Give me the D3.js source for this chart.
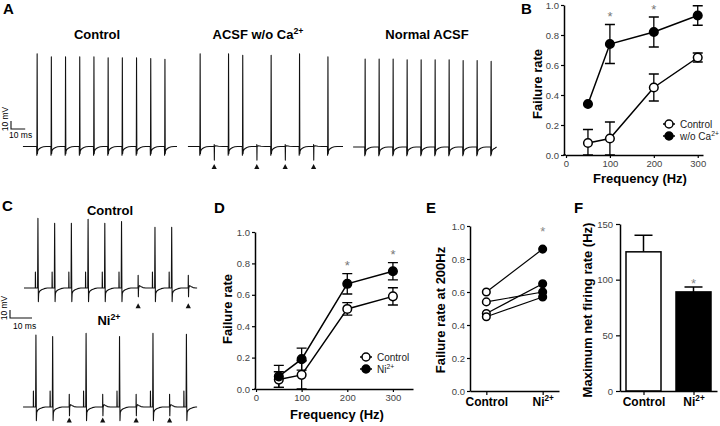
<!DOCTYPE html>
<html><head><meta charset="utf-8">
<script src="https://cdn.jsdelivr.net/npm/d3@7/dist/d3.min.js"></script>
<style>
html,body{margin:0;padding:0;background:#fff;}
svg{display:block;}
</style></head>
<body>
<svg id="fig" width="720" height="426"></svg>
<script>
// ---------------- DATA ----------------
const freqs = [50, 100, 200, 300];
const freqTicks = [0, 100, 200, 300];
const rateTicks = [0, 0.2, 0.4, 0.6, 0.8, 1.0];
const firingTicks = [0, 50, 100, 150];

// Panel B
const bControlMean = [0.08, 0.11, 0.45, 0.65];
const bControlSem  = [0.09, 0.11, 0.09, 0.03];
const bNoCaMean    = [0.34, 0.74, 0.82, 0.93];
const bNoCaSem     = [0.00, 0.13, 0.10, 0.065];
const bSignificant = [100, 200];

// Panel D
const dControlMean = [0.06, 0.09, 0.51, 0.59];
const dControlSem  = [0.05, 0.09, 0.04, 0.055];
const dNiMean      = [0.08, 0.19, 0.67, 0.75];
const dNiSem       = [0.07, 0.07, 0.065, 0.055];
const dSignificant = [200, 300];

// Panel E (paired cells)
const eGroups  = ['Control', 'Ni'];
const eControl = [0.60, 0.54, 0.47, 0.45];
const eNi      = [0.86, 0.60, 0.65, 0.57];

// Panel F
const fGroups = ['Control', 'Ni'];
const fMean = [125, 89];
const fSem  = [15, 4.5];

// Traces: stimulus times (ms) and spike amplitudes (mV); 0 = failure
const aStimMs = [0, 10, 20, 30, 40, 50, 60, 70, 80, 90];
const aControlAmp = [116, 112, 112, 112, 112, 111, 111, 111, 110, 109];
const aNoCaAmp    = [116, 0, 116, 114, 0, 114, 0, 116, 0, 112];
const aNormalAmp  = [110, 110, 110, 109, 109, 109, 109, 108, 108, 107];
const cStimMs = [0, 7.6, 15.2, 22.8, 30.4, 38.0, 45.6, 53.2, 60.8, 68.4];
const cControlAmp = [87, 81, 81, 86, 81, 83, 0, 76, 76, 0];
const cNiAmp      = [90, 88, 0, 92, 0, 88, 0, 92, 0, 91];

// Waveform shapes: [ms after stimulus, mV from rest]; null = spike peak
const spikeShapeA = [[-0.25,0],[-0.15,-11],[-0.05,0],[0.1,null],[0.3,-9],[0.45,-6],[0.9,-4],[1.8,-2.5],[3,-1.2],[4.5,-0.4],[6.5,0]];
const failShapeA  = [[-0.05,0],[0,2.5],[0.1,-17],[0.2,0],[1,1],[3,0.4],[6,0]];
const spikeShapeC = [[-0.05,0],[0,20],[0.1,0],[1.0,0],[1.15,null],[1.35,-17],[1.5,-7],[1.9,-4],[2.8,-2.2],[4,-0.8],[5.4,0]];
const failShapeC  = [[1.05,0],[1.1,16],[1.2,-11],[1.3,0],[1.7,3],[2.3,2],[3.3,0.5],[4.5,0]];

// ---------------- DRAWING ----------------
const FONT = '"Liberation Sans", Arial, Helvetica, sans-serif';
const svg = d3.select('#fig').attr('font-family', FONT);

function txt(x, y, s, o = {}) {
  const t = svg.append('text').attr('x', x).attr('y', y)
    .attr('font-size', o.fs || 13).attr('font-weight', o.bold ? 'bold' : 'normal')
    .attr('fill', o.fill || '#000').attr('text-anchor', o.anchor || 'start');
  if (o.rot) t.attr('transform', `rotate(${o.rot},${x},${y})`);
  t.append('tspan').text(s);
  if (o.sup) t.append('tspan').attr('dy', -(o.fs || 13) * 0.4).attr('font-size', (o.fs || 13) * 0.68).text(o.sup);
  return t;
}

function styleAxis(g, fs, color, bold) {
  g.attr('font-family', FONT).attr('font-size', fs);
  g.select('.domain').attr('stroke', '#000').attr('stroke-width', 1.5);
  g.selectAll('.tick line').attr('stroke', '#000').attr('stroke-width', 1.2);
  g.selectAll('.tick text').attr('fill', color).attr('font-weight', bold ? 'bold' : 'normal');
}

// panel letters
[['A',3,14],['B',521,14],['C',2,211],['D',214,213],['E',426,213],['F',574,213]].forEach(([l,x,y]) =>
  txt(x, y, l, {fs: 15, bold: true}));

// ---- traces ----
function trace(cfg) {
  const x = d3.scaleLinear().domain([0, 10]).range([cfg.stimX, cfg.stimX + 10 * cfg.pxPerMs]);
  const y = d3.scaleLinear().domain([0, 10]).range([cfg.base, cfg.base - 10 * cfg.pxPerMv]);
  let pts = [[cfg.t0, 0]];
  cfg.stims.forEach((t, i) => {
    const a = cfg.amps[i];
    const shape = a > 0 ? cfg.spike : cfg.fail;
    shape.forEach(([dt, v]) => pts.push([t + dt, v === null ? a : v]));
  });
  pts.push([cfg.t1, 0]);
  pts = pts.filter(p => p[0] >= cfg.t0 && p[0] <= cfg.t1);
  svg.append('path').datum(pts)
    .attr('d', d3.line().x(d => x(d[0])).y(d => y(d[1])))
    .attr('fill', 'none').attr('stroke', '#111').attr('stroke-width', 1.1).attr('stroke-linejoin', 'round');
  cfg.stims.forEach((t, i) => {
    if (cfg.amps[i] === 0) {
      const ax = x(t + cfg.arrowDt), ay = y(cfg.arrowMv);
      svg.append('path').attr('d', `M${ax},${ay}L${ax-2.6},${ay+5}L${ax+2.6},${ay+5}Z`).attr('fill', '#111');
    }
  });
}

trace({stims: aStimMs, amps: aControlAmp, spike: spikeShapeA, fail: failShapeA, stimX: 37, pxPerMs: 1.42, pxPerMv: 0.8, base: 146.5, t0: -9.9, t1: 98.6, arrowDt: 0, arrowMv: -22});
trace({stims: aStimMs, amps: aNoCaAmp, spike: spikeShapeA, fail: failShapeA, stimX: 200, pxPerMs: 1.42, pxPerMv: 0.8, base: 146.5, t0: -8.5, t1: 100.7, arrowDt: 0, arrowMv: -22});
trace({stims: aStimMs, amps: aNormalAmp, spike: spikeShapeA, fail: failShapeA, stimX: 365, pxPerMs: 1.40, pxPerMv: 0.8, base: 147, t0: -8.5, t1: 94, arrowDt: 0, arrowMv: -22});
trace({stims: cStimMs, amps: cControlAmp, spike: spikeShapeC, fail: failShapeC, stimX: 35.4, pxPerMs: 2.2, pxPerMv: 0.8, base: 288, t0: -5.2, t1: 73.5, arrowDt: 1.1, arrowMv: -19});
trace({stims: cStimMs, amps: cNiAmp, spike: spikeShapeC, fail: failShapeC, stimX: 33.4, pxPerMs: 2.2, pxPerMv: 0.8, base: 407, t0: -4.7, t1: 74.4, arrowDt: 1.1, arrowMv: -13});

// scale bars
function scaleBar(x0, y0, pxPerMs, pxPerMv, msLab, mvLab) {
  const sx = d3.scaleLinear().domain([0, 10]).range([x0, x0 + 10 * pxPerMs]);
  const sy = d3.scaleLinear().domain([0, 10]).range([y0, y0 - 10 * pxPerMv]);
  svg.append('path').attr('d', `M${sx(0)},${sy(10)}V${sy(0)}H${sx(10)}`)
    .attr('fill', 'none').attr('stroke', '#111').attr('stroke-width', 1.1);
  txt(mvLab[0], mvLab[1], '10 mV', {fs: 8.5, rot: -90, anchor: 'middle'});
  txt(msLab[0], msLab[1], '10 ms', {fs: 8.5});
}
scaleBar(11, 129, 1.42, 0.8, [9, 138], [8, 119]);
scaleBar(10, 318, 2.2, 0.8, [13, 329], [7, 308]);

// trace titles
txt(97, 39, 'Control', {bold: true, anchor: 'middle'});
txt(258, 39, 'ACSF w/o Ca', {bold: true, anchor: 'middle', sup: '2+'});
txt(427, 39, 'Normal ACSF', {bold: true, anchor: 'middle'});
txt(110, 215, 'Control', {bold: true, anchor: 'middle'});
txt(109, 325, 'Ni', {bold: true, anchor: 'middle', sup: '2+'});

// ---- frequency panels (B, D) ----
function freqPanel(cfg) {
  const {x, y, yAxisX, series, sig} = cfg;
  const ya = svg.append('g').attr('transform', `translate(${yAxisX},0)`)
    .call(d3.axisLeft(y).tickValues(rateTicks).tickFormat(d3.format('.1f')).tickSize(3).tickPadding(2).tickSizeOuter(0));
  styleAxis(ya, 9.5, '#444');
  const xa = svg.append('g').attr('transform', `translate(0,${y(0)})`)
    .call(d3.axisBottom(x).tickValues(freqTicks).tickSize(3).tickPadding(2).tickSizeOuter(0));
  styleAxis(xa, 9.5, '#444');
  svg.append('line').attr('x1', yAxisX - 0.75).attr('x2', x(0)).attr('y1', y(0)).attr('y2', y(0))
    .attr('stroke', '#000').attr('stroke-width', 1.5);
  series.forEach(s => {
    const pts = freqs.map((f, i) => ({f, v: s.mean[i], e: s.sem[i]}));
    svg.append('path').datum(pts).attr('d', d3.line().x(d => x(d.f)).y(d => y(d.v)))
      .attr('fill', 'none').attr('stroke', '#000').attr('stroke-width', 1.5);
    pts.forEach(d => {
      if (d.e <= 0) return;
      const lo = Math.max(0, d.v - d.e), hi = d.v + d.e, cx = x(d.f);
      svg.append('path').attr('d', `M${cx},${y(lo)}V${y(hi)}M${cx-5},${y(hi)}H${cx+5}M${cx-5},${y(lo)}H${cx+5}`)
        .attr('stroke', '#000').attr('stroke-width', 1.3).attr('fill', 'none');
    });
  });
  series.forEach(s => {
    freqs.forEach((f, i) => {
      svg.append('circle').attr('cx', x(f)).attr('cy', y(s.mean[i])).attr('r', 4.3)
        .attr('fill', s.fill).attr('stroke', '#000').attr('stroke-width', 1.5);
    });
  });
  sig.forEach(f => {
    const i = freqs.indexOf(f);
    const top = d3.max(series, s => s.mean[i] + s.sem[i]);
    txt(x(f), y(top) - 11 + 7.6, '*', {fs: 13, fill: '#777', anchor: 'middle'});
  });
  series.forEach((s, k) => {
    const lx = cfg.legend[0], ly = cfg.legend[1] + k * 12;
    svg.append('line').attr('x1', lx - 6).attr('x2', lx + 6).attr('y1', ly).attr('y2', ly).attr('stroke', '#000').attr('stroke-width', 1.5);
    svg.append('circle').attr('cx', lx).attr('cy', ly).attr('r', 4).attr('fill', s.fill).attr('stroke', '#000').attr('stroke-width', 1.5);
    txt(lx + 11, ly + 3.5, s.label, {fs: 10, fill: '#222', sup: s.sup});
  });
  txt(cfg.ylab[0], cfg.ylab[1], 'Failure rate', {bold: true, rot: -90, anchor: 'middle'});
  txt(cfg.xlab[0], cfg.xlab[1], 'Frequency (Hz)', {bold: true, anchor: 'middle'});
}

freqPanel({
  x: d3.scaleLinear().domain([0, 312]).range([566, 703]),
  y: d3.scaleLinear().domain([0, 1]).range([155, 5]),
  yAxisX: 564,
  series: [
    {mean: bControlMean, sem: bControlSem, fill: '#fff', label: 'Control'},
    {mean: bNoCaMean, sem: bNoCaSem, fill: '#000', label: 'w/o Ca', sup: '2+'}
  ],
  sig: bSignificant, legend: [669, 124], ylab: [541.5, 84], xlab: [640, 183]
});

freqPanel({
  x: d3.scaleLinear().domain([0, 344]).range([256, 413]),
  y: d3.scaleLinear().domain([0, 1]).range([389, 232]),
  yAxisX: 255,
  series: [
    {mean: dControlMean, sem: dControlSem, fill: '#fff', label: 'Control'},
    {mean: dNiMean, sem: dNiSem, fill: '#000', label: 'Ni', sup: '2+'}
  ],
  sig: dSignificant, legend: [366, 357], ylab: [232, 309], xlab: [337, 419]
});

// ---- category axis helper ----
function catAxis(scale, yPos) {
  const g = svg.append('g').attr('transform', `translate(0,${yPos})`)
    .call(d3.axisBottom(scale).tickSize(4).tickPadding(2.5).tickSizeOuter(0));
  styleAxis(g, 12, '#000', true);
  g.selectAll('.tick text').each(function (d) {
    const t = d3.select(this);
    if (d === 'Ni') {
      t.text(null);
      t.append('tspan').text('Ni');
      t.append('tspan').attr('dy', -4.8).attr('font-size', 8.2).text('2+');
    }
  });
}

// ---- Panel E ----
const yE = d3.scaleLinear().domain([0, 1]).range([391, 226]);
const xE = d3.scalePoint().domain(eGroups).range([470, 559]).padding(0.29);
const eya = svg.append('g').attr('transform', 'translate(470,0)')
  .call(d3.axisLeft(yE).tickValues(rateTicks).tickFormat(d3.format('.1f')).tickSize(3).tickPadding(2).tickSizeOuter(0));
styleAxis(eya, 9.5, '#444');
catAxis(xE, 391);
eControl.forEach((v, i) => {
  svg.append('line').attr('x1', xE('Control')).attr('y1', yE(v)).attr('x2', xE('Ni')).attr('y2', yE(eNi[i]))
    .attr('stroke', '#000').attr('stroke-width', 1.2);
});
eControl.forEach(v => svg.append('circle').attr('cx', xE('Control')).attr('cy', yE(v)).attr('r', 3.8)
  .attr('fill', '#fff').attr('stroke', '#000').attr('stroke-width', 1.5));
eNi.forEach(v => svg.append('circle').attr('cx', xE('Ni')).attr('cy', yE(v)).attr('r', 3.8)
  .attr('fill', '#000').attr('stroke', '#000').attr('stroke-width', 1.5));
txt(xE('Ni'), 235.6, '*', {fs: 13, fill: '#888', anchor: 'middle'});
txt(445, 310, 'Failure rate at 200Hz', {bold: true, rot: -90, anchor: 'middle'});

// ---- Panel F ----
const yF = d3.scaleLinear().domain([0, 150]).range([391, 224]);
const xF = d3.scalePoint().domain(fGroups).range([620, 717]).padding(0.47);
const fya = svg.append('g').attr('transform', 'translate(620,0)')
  .call(d3.axisLeft(yF).tickValues(firingTicks).tickSize(4).tickPadding(3).tickSizeOuter(0));
styleAxis(fya, 9.5, '#444');
const barW = 35;
fGroups.forEach((g, i) => {
  const cx = xF(g), top = yF(fMean[i]), hi = yF(fMean[i] + fSem[i]);
  svg.append('path').attr('d', `M${cx},${top}V${hi}M${cx-9},${hi}H${cx+9}`)
    .attr('stroke', '#000').attr('stroke-width', 1.5).attr('fill', 'none');
  svg.append('rect').attr('x', cx - barW / 2).attr('y', top).attr('width', barW).attr('height', yF(0) - top)
    .attr('fill', i === 0 ? '#fff' : '#000').attr('stroke', '#000').attr('stroke-width', 1.5);
});
catAxis(xF, 391);
txt(xF('Ni'), 288, '*', {fs: 13, fill: '#888', anchor: 'middle'});
txt(592, 310, 'Maximum net firing rate (Hz)', {bold: true, rot: -90, anchor: 'middle'});
</script>
</body></html>
